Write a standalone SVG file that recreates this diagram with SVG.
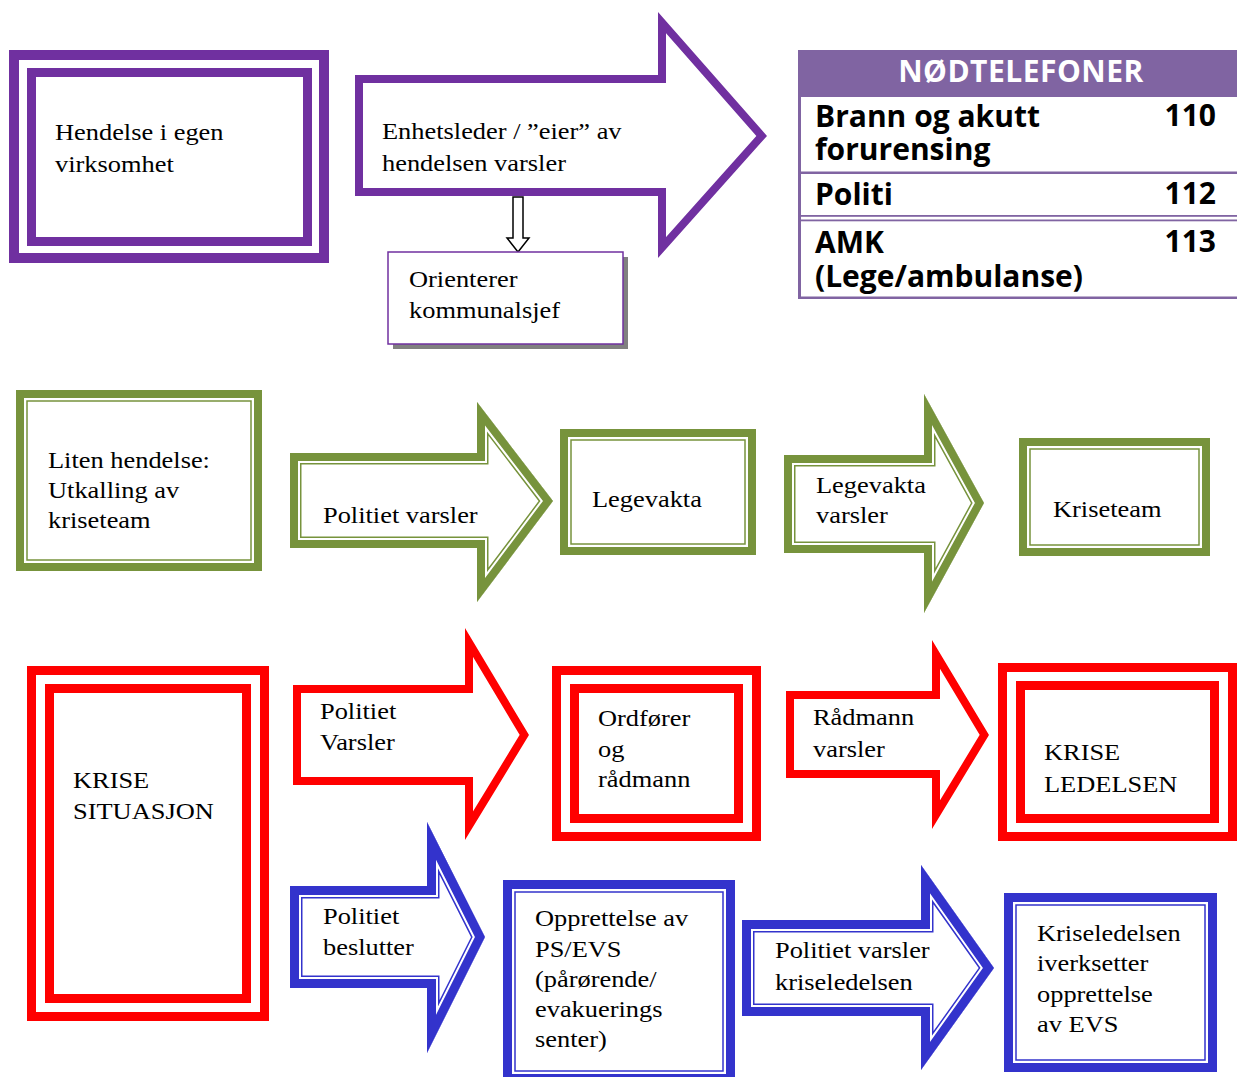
<svg xmlns="http://www.w3.org/2000/svg" xmlns:xlink="http://www.w3.org/1999/xlink" width="1237" height="1077" viewBox="0 0 1237 1077">
<style>
.t{font-family:"Liberation Serif","Times New Roman",serif;font-size:24px;fill:#000}
.b{font-family:"Open Sans","Noto Sans",sans-serif;font-weight:700;font-size:30px;fill:#000}
.h{font-family:"Open Sans","Noto Sans",sans-serif;font-weight:700;font-size:30px;fill:#fff;letter-spacing:0.5px}
.j{stroke-linejoin:miter;stroke-miterlimit:30}
.pb{fill:#fff;stroke:#7030A0}
.gT{fill:#fff;stroke:#77933C;stroke-width:8}
.gt{fill:none;stroke:#77933C;stroke-width:1.5}
.rT{fill:#fff;stroke:#FF0000;stroke-width:9}
.bT{fill:#fff;stroke:#3333CC;stroke-width:9}
.bt{fill:none;stroke:#3333CC;stroke-width:1.5}
.g1{fill:#fff;stroke:#77933C;stroke-width:23}
.g2{fill:none;stroke:#fff;stroke-width:20}
.g3{fill:none;stroke:#77933C;stroke-width:16}
.b1{fill:#fff;stroke:#3333CC;stroke-width:25}
.b2{fill:none;stroke:#fff;stroke-width:22}
.b3{fill:none;stroke:#3333CC;stroke-width:18}
.ra{fill:#fff;stroke:#FF0000;stroke-width:16}
.pa{fill:#fff;stroke:#7030A0;stroke-width:16}
.tb{fill:#8064A2}
</style>
<defs>
<polygon id="p-enh" points="355,75 658,75 658,12 767,136 658,258 658,196 355,196"/>
<polygon id="p-g1" points="290,453 477,453 477,402 553,501 477,602 477,548 290,548"/>
<polygon id="p-g2" points="784,455 924,455 924,394 984,503 924,613 924,553 784,553"/>
<polygon id="p-r1" points="293,685 465,685 465,628 529,735 465,840 465,785 293,785"/>
<polygon id="p-r2" points="786,691 932,691 932,640 989,735 932,829 932,778 786,778"/>
<polygon id="p-b1" points="290,886 427,886 427,822 485,937 427,1053 427,988 290,988"/>
<polygon id="p-b2" points="742,920 921,920 921,865 994,968 921,1070 921,1016 742,1016"/>
<clipPath id="c-enh"><use href="#p-enh"/></clipPath>
<clipPath id="c-g1"><use href="#p-g1"/></clipPath>
<clipPath id="c-g2"><use href="#p-g2"/></clipPath>
<clipPath id="c-r1"><use href="#p-r1"/></clipPath>
<clipPath id="c-r2"><use href="#p-r2"/></clipPath>
<clipPath id="c-b1"><use href="#p-b1"/></clipPath>
<clipPath id="c-b2"><use href="#p-b2"/></clipPath>
</defs>
<rect width="1237" height="1077" fill="#fff"/>

<g id="connectors" class="j">
  <g id="arrow-enhetsleder">
    <g clip-path="url(#c-enh)"><use href="#p-enh" class="pa"/></g>
    <text class="t" transform="translate(382,139) scale(1.1,1)"><tspan x="0" y="0">Enhetsleder / ”eier” av</tspan><tspan x="0" y="32">hendelsen varsler</tspan></text>
  </g>
  <g id="arrow-orienterer">
    <polygon points="513,197 523,197 523,238 529,238 518,252 507,238 513,238" fill="#fff" stroke="#000" stroke-width="1.5"/>
  </g>
  <g id="arrow-politiet-varsler-green">
    <g clip-path="url(#c-g1)"><use href="#p-g1" class="g1"/><use href="#p-g1" class="g2"/><use href="#p-g1" class="g3"/></g>
    <text class="t" transform="translate(323,523) scale(1.1,1)">Politiet varsler</text>
  </g>
  <g id="arrow-legevakta-varsler">
    <g clip-path="url(#c-g2)"><use href="#p-g2" class="g1"/><use href="#p-g2" class="g2"/><use href="#p-g2" class="g3"/></g>
    <text class="t" transform="translate(816,493) scale(1.1,1)"><tspan x="0" y="0">Legevakta</tspan><tspan x="0" y="30">varsler</tspan></text>
  </g>
  <g id="arrow-politiet-varsler-red">
    <g clip-path="url(#c-r1)"><use href="#p-r1" class="ra"/></g>
    <text class="t" transform="translate(320,719) scale(1.1,1)"><tspan x="0" y="0">Politiet</tspan><tspan x="0" y="31">Varsler</tspan></text>
  </g>
  <g id="arrow-radmann-varsler">
    <g clip-path="url(#c-r2)"><use href="#p-r2" class="ra"/></g>
    <text class="t" transform="translate(813,725) scale(1.1,1)"><tspan x="0" y="0">Rådmann</tspan><tspan x="0" y="32">varsler</tspan></text>
  </g>
  <g id="arrow-politiet-beslutter">
    <g clip-path="url(#c-b1)"><use href="#p-b1" class="b1"/><use href="#p-b1" class="b2"/><use href="#p-b1" class="b3"/></g>
    <text class="t" transform="translate(323,924) scale(1.1,1)"><tspan x="0" y="0">Politiet</tspan><tspan x="0" y="31">beslutter</tspan></text>
  </g>
  <g id="arrow-politiet-varsler-kriseledelsen">
    <g clip-path="url(#c-b2)"><use href="#p-b2" class="b1"/><use href="#p-b2" class="b2"/><use href="#p-b2" class="b3"/></g>
    <text class="t" transform="translate(775,958) scale(1.1,1)"><tspan x="0" y="0">Politiet varsler</tspan><tspan x="0" y="32">kriseledelsen</tspan></text>
  </g>
</g>

<g id="node-hendelse">
  <rect x="14" y="55" width="310" height="203" class="pb" stroke-width="10"/>
  <rect x="31.5" y="72.5" width="276" height="169" class="pb" stroke-width="9"/>
  <text class="t" transform="translate(55,140) scale(1.1,1)"><tspan x="0" y="0">Hendelse i egen</tspan><tspan x="0" y="32">virksomhet</tspan></text>
</g>

<g id="node-orienterer">
  <rect x="393" y="257" width="235" height="92" fill="#808080"/>
  <rect x="388" y="252" width="235" height="92" fill="#fff" stroke="#7030A0" stroke-width="1.5"/>
  <text class="t" transform="translate(409,287) scale(1.1,1)"><tspan x="0" y="0">Orienterer</tspan><tspan x="0" y="31">kommunalsjef</tspan></text>
</g>

<g id="node-nodtelefoner">
  <rect x="798" y="50" width="439" height="47" class="tb"/>
  <rect x="798" y="97" width="3" height="202" class="tb"/>
  <rect x="798" y="171.5" width="439" height="2.5" class="tb"/>
  <rect x="798" y="215" width="439" height="1.8" class="tb"/>
  <rect x="798" y="219.5" width="439" height="1.8" class="tb"/>
  <rect x="798" y="296.5" width="439" height="2.5" class="tb"/>
  <text class="h" x="1021" y="82" text-anchor="middle">NØDTELEFONER</text>
  <text class="b"><tspan x="815" y="127">Brann og akutt</tspan><tspan x="815" y="160">forurensing</tspan></text>
  <text class="b" x="1216" y="126" text-anchor="end">110</text>
  <text class="b" x="815" y="205">Politi</text>
  <text class="b" x="1216" y="204" text-anchor="end">112</text>
  <text class="b"><tspan x="815" y="253">AMK</tspan><tspan x="815" y="287">(Lege/ambulanse)</tspan></text>
  <text class="b" x="1216" y="252" text-anchor="end">113</text>
</g>

<g id="node-liten-hendelse">
  <rect x="20" y="394" width="238" height="173" class="gT"/>
  <rect x="27" y="401" width="224" height="159" class="gt"/>
  <text class="t" transform="translate(48,468) scale(1.1,1)"><tspan x="0" y="0">Liten hendelse:</tspan><tspan x="0" y="30">Utkalling av</tspan><tspan x="0" y="60">kriseteam</tspan></text>
</g>

<g id="node-legevakta">
  <rect x="564" y="433" width="188" height="118" class="gT"/>
  <rect x="571" y="440" width="174" height="104" class="gt"/>
  <text class="t" transform="translate(592,507) scale(1.1,1)">Legevakta</text>
</g>

<g id="node-kriseteam">
  <rect x="1023" y="442" width="183" height="110" class="gT"/>
  <rect x="1030" y="449" width="169" height="96" class="gt"/>
  <text class="t" transform="translate(1053,517) scale(1.1,1)">Kriseteam</text>
</g>

<g id="node-krise-situasjon">
  <rect x="31.5" y="670.5" width="233" height="346" class="rT"/>
  <rect x="49.5" y="688.5" width="197" height="310" class="rT"/>
  <text class="t" transform="translate(73,788) scale(1.1,1)"><tspan x="0" y="0">KRISE</tspan><tspan x="0" y="31">SITUASJON</tspan></text>
</g>

<g id="node-ordforer">
  <rect x="556.5" y="670.5" width="200" height="166" class="rT"/>
  <rect x="574.5" y="688.5" width="164" height="130" class="rT"/>
  <text class="t" transform="translate(598,726) scale(1.1,1)"><tspan x="0" y="0">Ordfører</tspan><tspan x="0" y="31">og</tspan><tspan x="0" y="61">rådmann</tspan></text>
</g>

<g id="node-kriseledelsen">
  <rect x="1002.5" y="667.5" width="230" height="169" class="rT"/>
  <rect x="1020.5" y="685.5" width="194" height="133" class="rT"/>
  <text class="t" transform="translate(1044,760) scale(1.1,1)"><tspan x="0" y="0">KRISE</tspan><tspan x="0" y="32">LEDELSEN</tspan></text>
</g>

<g id="node-opprettelse">
  <rect x="507.5" y="884.5" width="223" height="194" class="bT"/>
  <rect x="515" y="892" width="208" height="179" class="bt"/>
  <text class="t" transform="translate(535,926) scale(1.1,1)"><tspan x="0" y="0">Opprettelse av</tspan><tspan x="0" y="31">PS/EVS</tspan><tspan x="0" y="61">(pårørende/</tspan><tspan x="0" y="91">evakuerings</tspan><tspan x="0" y="121">senter)</tspan></text>
</g>

<g id="node-kriseledelsen-evs">
  <rect x="1008.5" y="897.5" width="204" height="170" class="bT"/>
  <rect x="1016" y="905" width="189" height="155" class="bt"/>
  <text class="t" transform="translate(1037,941) scale(1.1,1)"><tspan x="0" y="0">Kriseledelsen</tspan><tspan x="0" y="30">iverksetter</tspan><tspan x="0" y="61">opprettelse</tspan><tspan x="0" y="91">av EVS</tspan></text>
</g>
</svg>
